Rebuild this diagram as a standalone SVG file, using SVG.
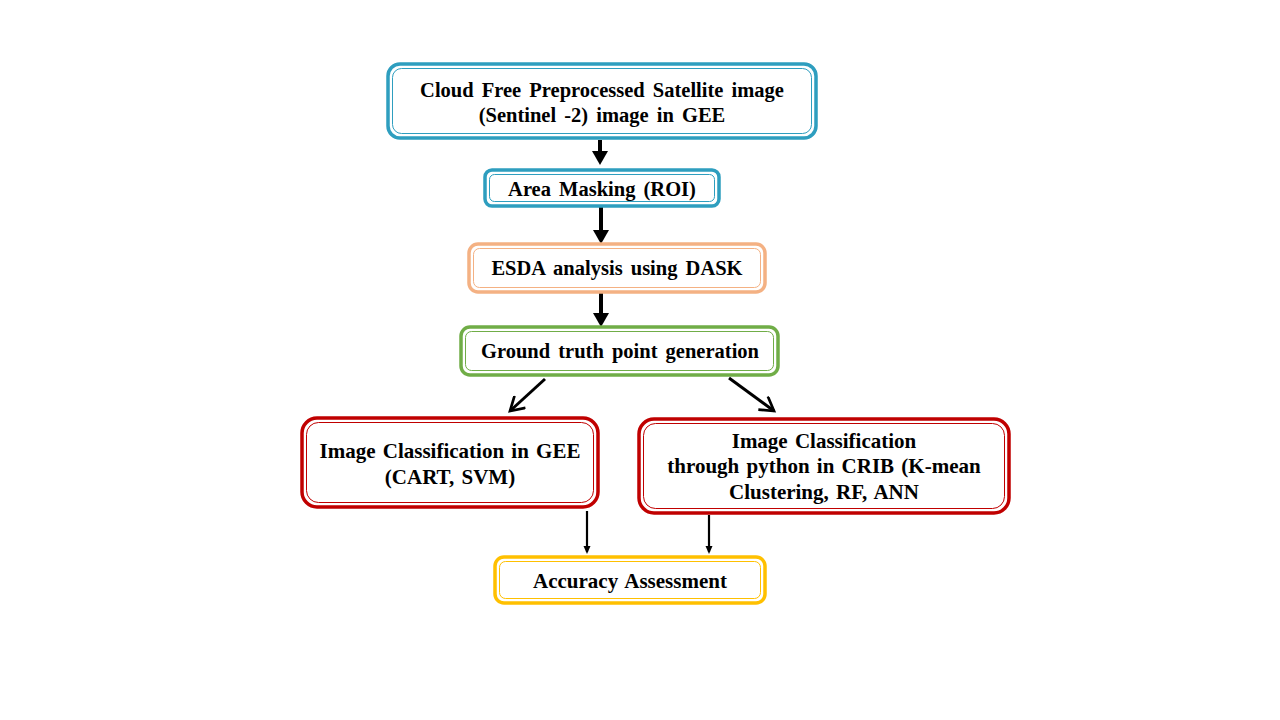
<svg xmlns="http://www.w3.org/2000/svg" width="1280" height="720" viewBox="0 0 1280 720">
<defs>
<style>
.o{fill:#fff;stroke-width:3.5}
.i{fill:none;stroke-width:1}
.t{font-family:"Liberation Serif","Times New Roman",serif;font-weight:bold;font-size:20.5px;fill:#000;text-anchor:middle;word-spacing:3px}
.n{font-size:21px;word-spacing:2px}
.blue{stroke:#2E9EBF}.orange{stroke:#F4B183}.green{stroke:#70AD47}.red{stroke:#C00000}.gold{stroke:#FFC000}
.c{stroke:#000;fill:none}
</style>
<marker id="fh" markerWidth="4" markerHeight="4" refX="2" refY="2" orient="auto" markerUnits="strokeWidth"><path d="M0,0 L3.5,2 L0,4 Z" fill="#000"/></marker>
<marker id="fs" markerWidth="8" markerHeight="8" refX="6" refY="4" orient="auto" markerUnits="userSpaceOnUse"><path d="M0,0.5 L8,4 L0,7.5 Z" fill="#000"/></marker>
<marker id="oh" markerWidth="6" markerHeight="6" refX="5" refY="3" orient="auto" markerUnits="strokeWidth"><path d="M0.5,0.3 L5,3 L0.5,5.7" fill="none" stroke="#000" stroke-width="0.9"/></marker>
</defs>
<rect width="1280" height="720" fill="#fff"/>
<g id="connectors">
<line class="c" x1="600" y1="140" x2="600" y2="159" stroke-width="4" marker-end="url(#fh)"/>
<line class="c" x1="601" y1="207" x2="601" y2="238" stroke-width="4" marker-end="url(#fh)"/>
<line class="c" x1="601" y1="292" x2="601" y2="321" stroke-width="4" marker-end="url(#fh)"/>
<line class="c" x1="545" y1="379" x2="510" y2="411" stroke-width="3" marker-end="url(#oh)"/>
<line class="c" x1="729" y1="378" x2="774" y2="411" stroke-width="3" marker-end="url(#oh)"/>
<line class="c" x1="587" y1="511" x2="587" y2="552" stroke-width="2.2" marker-end="url(#fs)"/>
<line class="c" x1="709" y1="515" x2="709" y2="552" stroke-width="2.2" marker-end="url(#fs)"/>
</g>
<g id="n1">
<rect class="o blue" x="388" y="64" width="428" height="74" rx="12"/>
<rect class="i blue" x="392.5" y="68.5" width="419" height="65" rx="9"/>
<text class="t" x="602" y="97">Cloud Free Preprocessed Satellite image</text>
<text class="t" x="602" y="122">(Sentinel -2) image in GEE</text>
</g>
<g id="n2">
<rect class="o blue" x="485" y="170" width="234" height="36" rx="7"/>
<rect class="i blue" x="489.5" y="174.5" width="225" height="27" rx="5"/>
<text class="t" x="602" y="196">Area Masking (ROI)</text>
</g>
<g id="n3">
<rect class="o orange" x="469" y="244" width="296" height="48" rx="9"/>
<rect class="i orange" x="473.5" y="248.5" width="287" height="39" rx="6"/>
<text class="t" x="617" y="275">ESDA analysis using DASK</text>
</g>
<g id="n4">
<rect class="o green" x="461" y="327" width="317" height="48" rx="9"/>
<rect class="i green" x="465.5" y="331.5" width="308" height="39" rx="6"/>
<text class="t" x="620" y="358">Ground truth point generation</text>
</g>
<g id="n5">
<rect class="o red" x="302" y="418" width="296" height="89" rx="15"/>
<rect class="i red" x="306.5" y="422.5" width="287" height="80" rx="12"/>
<text class="t n" x="450" y="458">Image Classification in GEE</text>
<text class="t n" x="450" y="484">(CART, SVM)</text>
</g>
<g id="n6">
<rect class="o red" x="639" y="419" width="370" height="94" rx="15"/>
<rect class="i red" x="643.5" y="423.5" width="361" height="85" rx="12"/>
<text class="t n" x="824" y="448">Image Classification</text>
<text class="t n" x="824" y="473">through python in CRIB (K-mean</text>
<text class="t n" x="824" y="499">Clustering, RF, ANN</text>
</g>
<g id="n7">
<rect class="o gold" x="495" y="557" width="270" height="46" rx="9"/>
<rect class="i gold" x="499.5" y="561.5" width="261" height="37" rx="6"/>
<text class="t n" x="630" y="588">Accuracy Assessment</text>
</g>
</svg>
